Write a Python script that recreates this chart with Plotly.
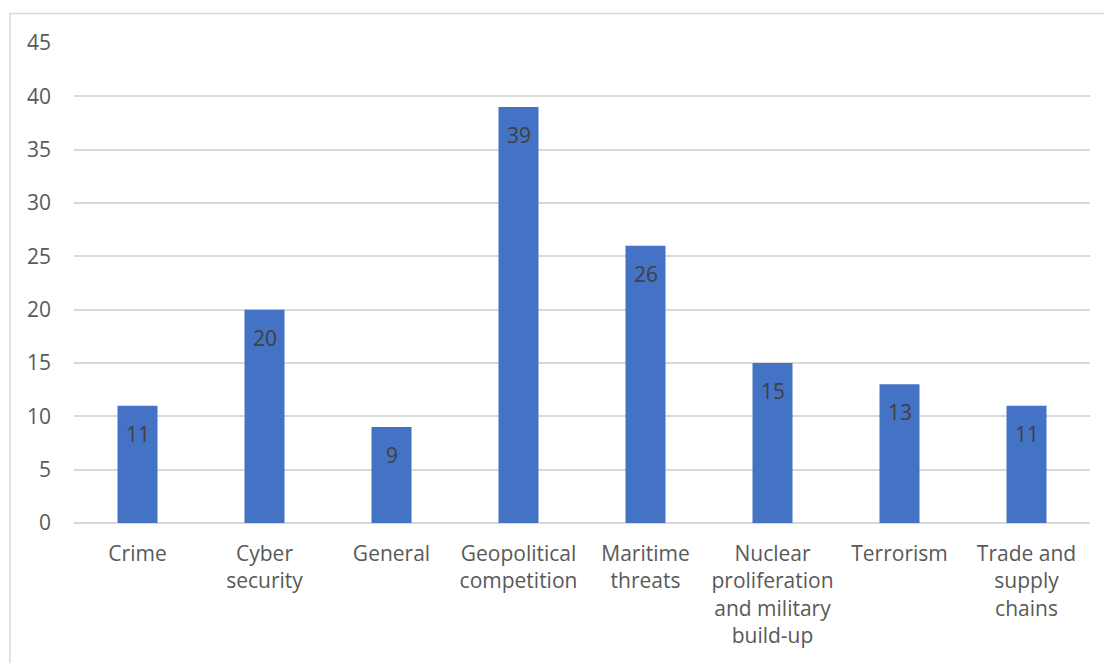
import plotly.graph_objects as go

# Category labels (line breaks as shown on the axis) and counts
categories = ["Crime", "Cyber security", "General", "Geopolitical competition",
              "Maritime threats", "Nuclear proliferation and military build-up",
              "Terrorism", "Trade and supply chains"]
tick_labels = ["Crime", "Cyber<br>security", "General", "Geopolitical<br>competition",
               "Maritime<br>threats", "Nuclear<br>proliferation<br>and military<br>build-up",
               "Terrorism", "Trade and<br>supply<br>chains"]
counts = [11, 20, 9, 39, 26, 15, 13, 11]
y_ticks = [0, 5, 10, 15, 20, 25, 30, 35, 40, 45]

W, H = 1104, 663
ML, MR, MT, MB = 74, 14, 42.5, 140
plot_w = W - ML - MR
plot_h = H - MT - MB

FONT = "Open Sans"
TXT = "#595959"
GRID = "#d9d9d9"
BAR = "#4472c4"

fig = go.Figure()
fig.add_trace(go.Bar(
    x=categories, y=counts,
    marker=dict(color=BAR, line=dict(width=0)),
    hoverinfo="x+y",
))

# value labels just inside the top of each bar
for c, v in zip(categories, counts):
    fig.add_annotation(
        x=c, y=v, xref="x", yref="y", text=str(v), showarrow=False,
        yanchor="top", yshift=-12,
        font=dict(family=FONT, size=21, color="#404040"),
    )

# light outer frame of the chart area
fig.add_shape(
    type="rect", xref="paper", yref="paper",
    x0=(10 - ML) / plot_w, x1=(W + 20 - ML) / plot_w,
    y0=-(H + 20 - (MT + plot_h)) / plot_h, y1=(MT + plot_h - 13) / plot_h,
    line=dict(color=GRID, width=1.5), fillcolor="rgba(0,0,0,0)", layer="below",
)

fig.update_layout(
    width=W, height=H,
    margin=dict(l=ML, r=MR, t=MT, b=MB, pad=0),
    paper_bgcolor="white", plot_bgcolor="white",
    bargap=1 - 40 / 127,
    showlegend=False,
    font=dict(family=FONT, size=21, color=TXT),
    xaxis=dict(
        tickmode="array", tickvals=categories, ticktext=tick_labels,
        showgrid=False, showline=False, zeroline=False, ticks="",
        ticklabelstandoff=16,
        tickfont=dict(family=FONT, size=21, color=TXT),
    ),
    yaxis=dict(
        range=[0, 45], tickvals=y_ticks,
        showgrid=True, gridcolor=GRID, gridwidth=1.5,
        zeroline=True, zerolinecolor=GRID, zerolinewidth=1.5,
        showline=False, ticks="", ticklabelstandoff=22,
        tickfont=dict(family=FONT, size=21, color=TXT),
    ),
)

fig.write_html("out.html")
